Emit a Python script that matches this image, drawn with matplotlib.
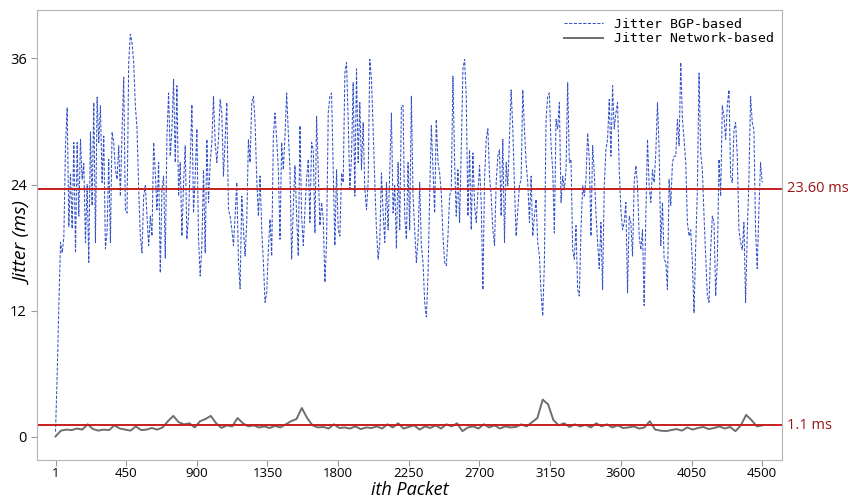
import numpy as np
import matplotlib
matplotlib.use("Agg")
import matplotlib.pyplot as plt

# jitter values (ms), evenly spread over packets 1..4500
bgp_jitter = [
    0.5, 6, 12.5, 18.5, 17.5, 19, 27.7, 31.3, 20, 25, 19.8, 28, 17.5, 28, 21, 28.3,
    24.5, 26, 18.5, 24, 16.6, 29, 22, 31.8, 18.5, 32.3, 28, 31.5, 24.2, 28.6, 17.9,
    19.5, 26.4, 18.5, 29, 28, 25.4, 24.5, 27.7, 22.9, 29, 34.2, 21.6, 21.3, 35.6, 38.3,
    37.5, 35.6, 31.5, 29.3, 23.6, 19.1, 17.5, 22.9, 23.9, 21.0, 18.2, 21.0, 19.1, 28.0,
    25.1, 21.6, 26.1, 15.6, 23.6,
    24.8, 17.0, 28.6, 32.7, 26.7, 29.3, 34.0, 26.1, 33.4, 22.9, 26.1, 19.1, 24.2, 27.7,
    18.8, 21.0, 26.1, 31.6, 21.3, 24.8, 29.3, 18.8, 15.3, 18.2, 25.4, 17.5, 28.3, 22.3,
    26.1, 28.0, 32.4, 28.0, 26.1, 28.3, 32.1, 30.8, 24.8, 28.3, 31.8, 21.6, 21.0, 19.8,
    18.2, 21.0, 24.2, 16.6, 14.1, 22.9, 19.8, 17.2, 20.4, 28.3, 26.1, 31.8, 32.4, 29.9,
    24.5, 21.0, 24.8, 19.8, 16.6, 12.8, 13.7, 17.9, 20.7, 17.2, 28.6, 30.8, 28.3, 25.4,
    18.8, 28.0,
    25.4, 28.6, 32.7, 28.9, 25.4, 16.9, 22.0, 25.8, 21.0, 17.2, 29.6, 21.0, 18.2, 21.6,
    24.5, 26.4, 20.4, 28.0, 27.3, 19.4, 30.5, 25.4, 20.1, 22.3, 20.7, 14.7, 18.5, 30.8,
    32.4, 32.7, 25.4, 18.2, 25.4, 19.7, 19.1, 25.1, 24.2, 34.6, 35.6, 30.2, 23.6, 26.7,
    33.7, 22.9, 35.0, 26.1, 31.8, 25.4, 29.9, 23.6, 21.6, 24.2, 35.9, 34.0, 29.3, 24.2,
    19.7, 16.9, 18.5, 25.1, 21.3, 18.5, 24.2, 19.7, 25.4, 30.8, 21.3, 23.9, 17.9, 26.1,
    19.7, 31.5,
    31.5, 21.0, 18.8, 26.1, 19.7, 32.4, 22.9, 19.7, 16.6, 18.8, 24.2, 18.2, 16.6, 12.8,
    11.4, 15.3, 22.9, 29.6, 25.4, 21.3, 30.2, 26.1, 25.1, 23.2, 19.1, 16.6, 16.3, 19.1,
    22.9, 23.5, 34.3, 26.1, 21.0, 25.4, 20.4, 27.3, 35.0, 35.9, 32.4, 21.0, 27.3, 19.7,
    27.0, 22.0, 20.4, 23.2, 25.8, 22.3, 14.0, 24.5, 28.3, 29.3, 24.8, 22.9, 19.7, 18.2,
    24.2, 26.7, 27.3, 21.0, 28.3, 18.5, 26.1, 23.9, 28.6, 33.0, 29.3, 23.9, 19.1, 21.6,
    23.9, 24.5, 33.0,
    29.3, 26.1, 24.2, 20.4, 24.8, 19.1, 21.0, 22.6, 18.5, 17.2, 13.7, 11.5, 16.6, 30.2,
    32.4, 32.7, 27.7, 25.4, 19.4, 30.2, 29.3, 31.8, 22.3, 24.8, 23.5, 25.4, 33.7, 26.1,
    26.4, 17.8, 16.9, 20.1, 14.0, 13.4, 19.7, 23.9, 22.9, 24.5, 28.9, 26.4, 19.1, 27.7,
    25.1, 21.3, 18.5, 16.0, 20.4, 14.0, 23.9, 27.3, 28.3, 32.1, 26.7, 33.4, 29.3, 30.8,
    31.8, 25.4, 21.6, 19.7, 20.4, 22.3, 13.7, 21.0, 20.4, 17.2, 24.2, 25.8, 23.9, 19.1,
    17.8,
    19.7, 12.5, 21.0, 28.3, 23.9, 22.3, 25.4, 24.2, 27.0, 31.8, 27.3, 18.2, 22.3, 16.9,
    16.6, 14.0, 24.5, 22.0, 26.1, 26.7, 26.7, 30.2, 27.7, 35.6, 30.2, 28.3, 26.1, 20.4,
    19.1, 19.7, 16.6, 11.8, 18.2, 23.5, 34.6, 27.0, 25.4, 21.0, 17.2, 13.4, 12.8, 17.8,
    21.0, 20.4, 13.4, 16.6, 26.4, 22.9, 31.5, 30.5, 28.3, 31.5, 33.0, 24.8, 24.2, 29.2,
    29.9, 26.7, 19.7, 18.5, 17.8, 20.4, 12.8, 19.4, 24.5, 32.4, 29.9, 29.2, 19.7, 16.0,
    21.6, 26.1, 24.2,
]

net_jitter = [
    0.05, 0.6, 0.7, 0.65, 0.8, 0.7, 1.2, 0.75, 0.6, 0.7, 0.65, 1.1, 0.8, 0.7, 0.6, 1.0,
    0.65, 0.7, 0.85, 0.7, 0.9, 1.5, 2.0, 1.4, 1.2, 1.3, 0.9, 1.5, 1.7, 2.0, 1.3, 0.85,
    1.1, 1.0, 1.8, 1.3, 1.0, 1.1, 0.9, 1.0, 0.85, 1.05, 0.9, 1.2, 1.5, 1.7, 2.75, 1.8,
    1.1, 0.9, 0.95, 0.8, 1.2, 0.85, 0.9, 0.8, 1.0, 0.75, 0.9, 0.85, 1.0, 0.8, 1.2, 0.9,
    1.3, 0.8, 0.95, 1.1, 0.7, 1.0, 0.85, 1.1, 0.8, 1.2, 1.0, 1.3, 0.55, 0.9, 1.0, 0.8,
    1.2, 0.9, 1.1, 0.8, 1.0, 0.9, 0.95, 1.2, 1.0, 1.4, 1.8, 3.55, 3.1, 1.6, 1.1, 1.3,
    0.95, 1.2, 1.0, 1.15, 0.9, 1.3, 1.0, 1.2, 0.9, 1.1, 0.85, 0.9, 1.0, 0.8, 0.9, 1.5,
    0.7, 0.6, 0.55, 0.65, 0.75, 0.6, 0.9, 0.7, 0.85, 0.95, 0.75, 0.85, 1.0, 0.8, 0.95,
    0.55, 1.1, 2.1, 1.6, 1.0, 1.1,
]

bgp_mean = 23.60
net_mean = 1.1
x_ticks = [1, 450, 900, 1350, 1800, 2250, 2700, 3150, 3600, 4050, 4500]
y_ticks = [0, 12, 24, 36]

bgp_x = np.linspace(1, 4500, len(bgp_jitter))
net_x = np.linspace(1, 4500, len(net_jitter))

plt.rcParams['font.family'] = ['Open Sans', 'DejaVu Sans']

fig = plt.figure(figsize=(8.48, 4.99), dpi=100)
ax = fig.add_axes([0.044, 0.078, 0.878, 0.902])

ax.plot(bgp_x, bgp_jitter, color='#3352c8', linewidth=0.75,
        linestyle=(0, (3, 1.5)), label='Jitter BGP-based')
ax.plot(net_x, net_jitter, color='#6e6e6e', linewidth=1.4,
        label='Jitter Network-based')

ax.axhline(bgp_mean, color='#c81e1e', linewidth=1.4)
ax.axhline(net_mean, color='#c81e1e', linewidth=1.4)
ax.text(1.007, bgp_mean, f'{bgp_mean:.2f} ms', transform=ax.get_yaxis_transform(),
        color='#9b1414', fontsize=10.5, va='center', ha='left')
ax.text(1.007, net_mean, f'{net_mean} ms', transform=ax.get_yaxis_transform(),
        color='#9b1414', fontsize=10.5, va='center', ha='left')

ax.set_xlim(-115, 4625)
ax.set_ylim(-2.2, 40.6)
ax.set_xticks(x_ticks)
ax.set_yticks(y_ticks)
ax.tick_params(labelsize=10.5, length=4, color='#999999')
ax.tick_params(axis='x', pad=1, labelsize=9.5)

for sp in ax.spines.values():
    sp.set_color('#b4b4b4')

ax.set_ylabel('Jitter (ms)', fontsize=14, style='italic')
ax.yaxis.set_label_coords(-0.006, 0.48)
ax.set_xlabel('ith Packet', fontsize=13, style='italic')
ax.xaxis.set_label_coords(0.5, -0.047)

leg = ax.legend(loc='upper right', frameon=False, handlelength=3,
                prop={'family': 'DejaVu Sans Mono', 'size': 9.5},
                borderaxespad=0.2, labelspacing=0.1)

fig.savefig('out.png', dpi=100)
